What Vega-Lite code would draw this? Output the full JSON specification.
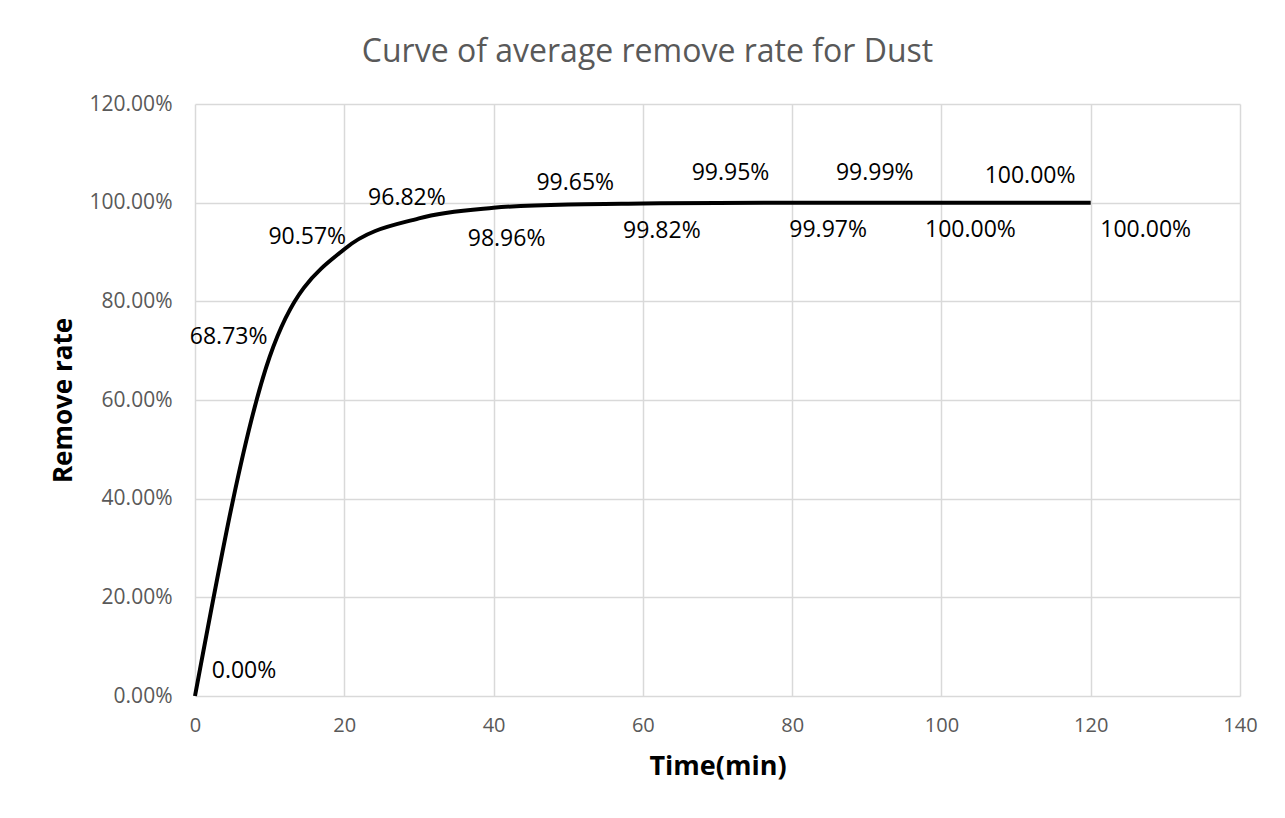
{
  "$schema": "https://vega.github.io/schema/vega-lite/v6.json",
  "autosize": {"type": "none"},
  "padding": {"left": 195, "top": 104, "right": 45, "bottom": 122},
  "width": 1045,
  "height": 592,
  "background": "white",
  "title": {
    "text": "Curve of average remove rate for Dust",
    "font": "Open Sans",
    "fontSize": 32,
    "fontWeight": "normal",
    "color": "#595959",
    "anchor": "middle",
    "dx": -70,
    "offset": 24
  },
  "data": {
    "values": [
      {"t": 0, "r": 0.0},
      {"t": 10, "r": 0.6873},
      {"t": 20, "r": 0.9057},
      {"t": 30, "r": 0.9682},
      {"t": 40, "r": 0.9896},
      {"t": 50, "r": 0.9965},
      {"t": 60, "r": 0.9982},
      {"t": 70, "r": 0.9995},
      {"t": 80, "r": 0.9997},
      {"t": 90, "r": 0.9999},
      {"t": 100, "r": 1.0},
      {"t": 110, "r": 1.0},
      {"t": 120, "r": 1.0}
    ]
  },
  "encoding": {
    "x": {
      "field": "t", "type": "quantitative",
      "scale": {"domain": [0, 140], "nice": false, "zero": false},
      "axis": {
        "title": "Time(min)", "values": [0, 20, 40, 60, 80, 100, 120, 140],
        "grid": true, "gridColor": "#d9d9d9", "gridWidth": 1.5,
        "domain": false, "ticks": false, "labelFlush": false,
        "labelFont": "Open Sans", "labelFontSize": 20, "labelColor": "#595959", "labelPadding": 19,
        "titleFont": "Open Sans", "titleFontSize": 27, "titleFontWeight": "bold", "titleColor": "#000000", "titlePadding": 18
      }
    },
    "y": {
      "field": "r", "type": "quantitative",
      "scale": {"domain": [0, 1.2], "nice": false},
      "axis": {
        "title": "Remove rate", "values": [0, 0.2, 0.4, 0.6, 0.8, 1.0, 1.2], "format": ".2%",
        "grid": true, "gridColor": "#d9d9d9", "gridWidth": 1.5,
        "domain": false, "ticks": false,
        "labelFont": "Open Sans", "labelFontSize": 21, "labelColor": "#595959", "labelPadding": 23,
        "titleFont": "Open Sans", "titleFontSize": 26, "titleFontWeight": "bold", "titleColor": "#000000", "titlePadding": 13
      }
    }
  },
  "layer": [
    {"mark": {"type": "line", "interpolate": "monotone", "color": "#000000", "strokeWidth": 4}},
    {"transform": [{"filter": "datum.t == 0"}], "mark": {"type": "text", "dx": 49, "dy": -25}, "encoding": {"text": {"field": "r", "format": ".2%"}}},
    {"transform": [{"filter": "datum.t == 10"}], "mark": {"type": "text", "dx": -41, "dy": -20}, "encoding": {"text": {"field": "r", "format": ".2%"}}},
    {"transform": [{"filter": "datum.t == 20"}], "mark": {"type": "text", "dx": -37, "dy": -12}, "encoding": {"text": {"field": "r", "format": ".2%"}}},
    {"transform": [{"filter": "datum.t == 30"}], "mark": {"type": "text", "dx": -12, "dy": -20}, "encoding": {"text": {"field": "r", "format": ".2%"}}},
    {"transform": [{"filter": "datum.t == 40"}], "mark": {"type": "text", "dx": 13, "dy": 31}, "encoding": {"text": {"field": "r", "format": ".2%"}}},
    {"transform": [{"filter": "datum.t == 50"}], "mark": {"type": "text", "dx": 7, "dy": -21}, "encoding": {"text": {"field": "r", "format": ".2%"}}},
    {"transform": [{"filter": "datum.t == 60"}], "mark": {"type": "text", "dx": 19, "dy": 27}, "encoding": {"text": {"field": "r", "format": ".2%"}}},
    {"transform": [{"filter": "datum.t == 70"}], "mark": {"type": "text", "dx": 13, "dy": -30}, "encoding": {"text": {"field": "r", "format": ".2%"}}},
    {"transform": [{"filter": "datum.t == 80"}], "mark": {"type": "text", "dx": 36, "dy": 27}, "encoding": {"text": {"field": "r", "format": ".2%"}}},
    {"transform": [{"filter": "datum.t == 90"}], "mark": {"type": "text", "dx": 8, "dy": -30}, "encoding": {"text": {"field": "r", "format": ".2%"}}},
    {"transform": [{"filter": "datum.t == 100"}], "mark": {"type": "text", "dx": 29, "dy": 27}, "encoding": {"text": {"field": "r", "format": ".2%"}}},
    {"transform": [{"filter": "datum.t == 110"}], "mark": {"type": "text", "dx": 14, "dy": -27}, "encoding": {"text": {"field": "r", "format": ".2%"}}},
    {"transform": [{"filter": "datum.t == 120"}], "mark": {"type": "text", "dx": 55, "dy": 27}, "encoding": {"text": {"field": "r", "format": ".2%"}}}
  ],
  "config": {"view": {"stroke": null}, "text": {"baseline": "middle", "align": "center", "font": "Open Sans", "fontSize": 23, "color": "#000000"}}
}
